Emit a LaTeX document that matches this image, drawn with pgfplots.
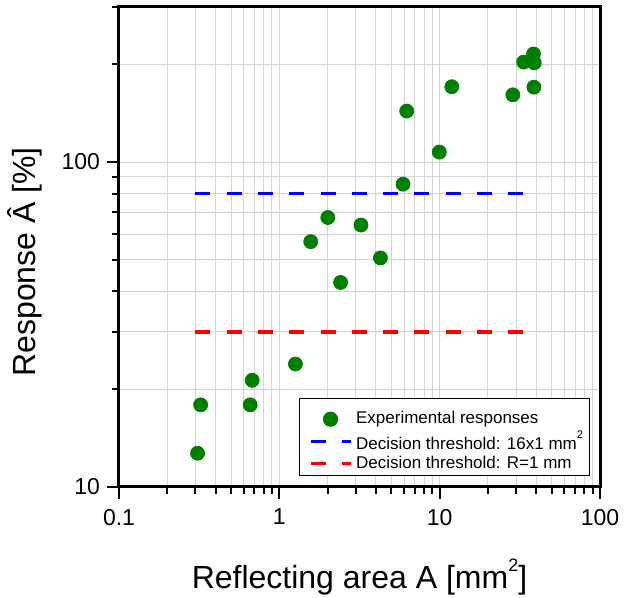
\documentclass[border=0pt]{standalone}
\usepackage{fontspec}
\setmainfont{Liberation Sans}
\usepackage{pgfplots}
\pgfplotsset{compat=1.18}
\definecolor{ptgreen}{RGB}{0,128,0}
\definecolor{gridgray}{RGB}{212,212,212}
\newcommand{\sq}{\raisebox{0.62em}{\fontsize{5.5}{6}\selectfont 2}}
\begin{document}
\begin{tikzpicture}
\useasboundingbox (0,0) rectangle (312.5pt,299pt);
\begin{axis}[
  at={(59.5pt,55.5pt)}, anchor=south west,
  width=240.5pt, height=240pt, scale only axis,
  xmode=log, ymode=log,
  xmin=0.1, xmax=100, ymin=10, ymax=300,
  xtick={0.1,1,10,100}, xticklabels={0.1,1,10,100},
  ytick={10,100}, yticklabels={10,100},
  minor xtick={0.2,0.3,0.4,0.5,0.6,0.7,0.8,0.9,2,3,4,5,6,7,8,9,20,30,40,50,60,70,80,90},
  minor ytick={20,30,40,50,60,70,80,90,200,300},
  grid=both,
  major grid style={gridgray, line width=0.5pt},
  minor grid style={gridgray, line width=0.5pt},
  axis line style={line width=1.5pt},
  tick align=outside, tick pos=left,
  major tick length=6pt, minor tick length=3.5pt,
  every tick/.style={black, line width=1pt},
  ticklabel style={font=\fontsize{11.5}{13}\selectfont},
  xticklabel style={yshift=-1.5pt},
  /pgf/number format/assume math mode=true,
  xlabel={Reflecting area A [mm\raisebox{0.55em}{\fontsize{9}{9}\selectfont 2}]},
  ylabel={Response Â [\%]},
  label style={font=\fontsize{16}{19}\selectfont},
  xlabel style={at={(axis description cs:0.5,-0.1875)}, anchor=center},
  ylabel style={at={(axis description cs:-0.195,0.469)}, anchor=center, rotate=0},
  legend style={at={(axis description cs:1,0)}, anchor=south east, xshift=-5pt, yshift=5.5pt,
    draw=black, line width=0.6pt, font=\fontsize{8.5}{10}\selectfont,
    inner xsep=1.2pt, inner ysep=1pt, row sep=0pt, cells={anchor=west},
    nodes={inner ysep=1pt}},
  legend image code/.code={\path[draw=none,fill=none] (-4.3pt,0pt) rectangle (0pt,0pt);\draw[mark repeat=2,mark phase=2,#1] plot coordinates {(0pt,0pt)(10pt,0pt)(20pt,0pt)};},
]
\addplot[only marks, mark=*, mark size=3.5pt, color=ptgreen, fill=ptgreen,
  legend image code/.code={\path[draw=none,fill=none] (-4.3pt,-3pt) rectangle (0pt,9.5pt);\draw[mark repeat=2,mark phase=2,##1] plot coordinates {(0pt,0pt)(10pt,0pt)(20pt,0pt)};}] coordinates {
(38.5,215) (33.4,203) (38.9,202) (38.7,170) (28.6,161) (11.9,170.5) (6.23,143.5)
(9.95,107.3) (5.91,85.5) (2.005,67.5) (3.23,64) (1.57,56.9) (4.27,50.7) (2.41,42.6)
(1.26,23.9) (0.677,21.3) (0.323,17.9) (0.658,17.9) (0.309,12.7)
};
\addlegendentry{Experimental responses}
\addplot[blue, line width=1.6pt, dash pattern=on 7.5pt off 8.13pt] coordinates {(0.3,80) (33,80)};
\addlegendentry{Decision threshold: 16x1 mm\sq}
\addplot[red, line width=1.6pt, dash pattern=on 7.5pt off 8.13pt] coordinates {(0.3,30) (33,30)};
\addlegendentry{Decision threshold: R=1 mm}
\end{axis}
\end{tikzpicture}
\end{document}
